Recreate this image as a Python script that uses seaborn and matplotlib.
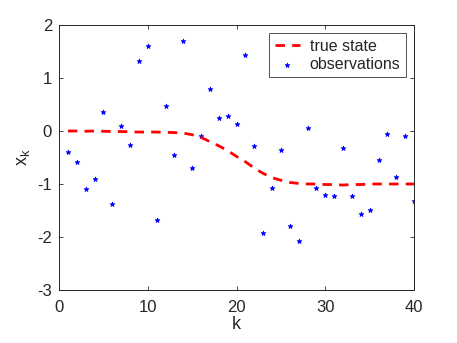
import numpy as np
import pandas as pd
import matplotlib
matplotlib.use("Agg")
import matplotlib.pyplot as plt
import seaborn as sns

k = list(range(1, 41))
true_state = [0.0, 0.0, -0.005, 0.0, -0.005, -0.01, -0.01, -0.015, -0.02, -0.02,
              -0.02, -0.025, -0.03, -0.04, -0.07, -0.12, -0.2, -0.28, -0.37, -0.48,
              -0.58, -0.7, -0.8, -0.88, -0.93, -0.97, -0.99, -1.0, -1.0, -1.01,
              -1.01, -1.02, -1.01, -1.01, -1.0, -1.0, -1.0, -1.0, -1.0, -1.0]
observations = [-0.39, -0.58, -1.085, -0.90, 0.35, -1.37, 0.10, -0.26, 1.32, 1.60,
                -1.67, 0.475, -0.46, 1.69, -0.695, -0.10, 0.80, 0.24, 0.28, 0.14,
                1.44, -0.29, -1.93, -1.08, -0.36, -1.80, -2.08, 0.05, -1.07, -1.21,
                -1.23, -0.32, -1.22, -1.56, -1.50, -0.55, -0.05, -0.86, -0.09, -1.32]
xticks = [0, 10, 20, 30, 40]
yticks = [-3, -2, -1, 0, 1, 2]

df = pd.DataFrame({"k": k, "true": true_state, "obs": observations})

sns.set_style("white")
plt.rcParams['font.family'] = ['Liberation Sans', 'DejaVu Sans']
plt.rcParams['mathtext.fontset'] = 'custom'
plt.rcParams['mathtext.rm'] = 'Liberation Sans'
plt.rcParams['mathtext.it'] = 'Liberation Sans'

fig = plt.figure(figsize=(4.57, 3.43), dpi=100)
ax = fig.add_axes([59/457, 1-290/343, (414-59)/457, (290-25)/343])

sns.lineplot(data=df, x="k", y="true", ax=ax, color="#ff0000", linewidth=2,
             linestyle=(0, (3.4, 2.6)), label="true state")
sns.scatterplot(data=df, x="k", y="obs", ax=ax, color="#0000ff", marker="*",
                s=12, linewidth=0.6, edgecolor="#0000ff", label="observations")

ax.set_xlim(0, 40)
ax.set_ylim(-3, 2)
ax.set_xticks(xticks)
ax.set_yticks(yticks)
ax.set_xticklabels([str(t) for t in xticks])
ax.set_yticklabels([str(t) for t in yticks])
ax.set_xlabel("k", fontsize=13, color="#262626", labelpad=1)
ax.set_ylabel(r"x$_\mathregular{k}$", fontsize=13, color="#262626", labelpad=4)

for s in ax.spines.values():
    s.set_visible(True)
    s.set_color("#262626")
    s.set_linewidth(0.7)
ax.tick_params(direction="in", length=3, width=0.6, colors="#262626",
               labelsize=12, top=True, right=True, bottom=True, left=True)
ax.tick_params(axis="x", pad=7)
ax.tick_params(axis="y", pad=5)

leg = ax.legend(loc="upper right", fontsize=11.5, frameon=True, fancybox=False,
                edgecolor="#262626", borderpad=0.35, handlelength=1.6,
                handletextpad=0.6, labelspacing=0.2, borderaxespad=0.5)
leg.get_frame().set_linewidth(0.7)

fig.savefig("out.png", dpi=100)
